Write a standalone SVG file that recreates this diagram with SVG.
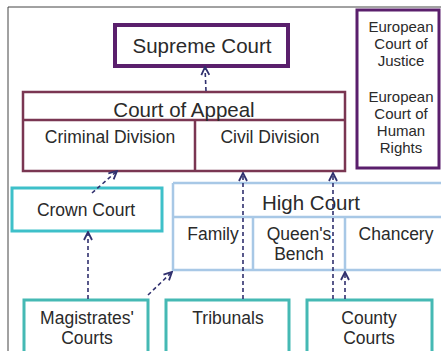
<svg xmlns="http://www.w3.org/2000/svg" width="441" height="351" viewBox="0 0 441 351">
<style>
text{font-family:"Liberation Sans",Arial,sans-serif;fill:#2a2a2a;text-anchor:middle}
.h{font-size:20.5px}
.s{font-size:17.5px}
.e{font-size:15px}
.box{fill:#fff}
.sc{stroke:#5a1f6c;stroke-width:4}
.ca{stroke:#7a3652;stroke-width:2.5;fill:none}
.eu{stroke:#5a1f6c;stroke-width:3}
.cc{stroke:#3ec0c9;stroke-width:3}
.hc{stroke:#a8c8e6;stroke-width:2.5;fill:none}
.lo{stroke:#45b9b4;stroke-width:3}
.conn{stroke:#30306e;stroke-width:1.6;stroke-dasharray:4 3;fill:none}
</style>
<defs>
<marker id="ah" viewBox="0 0 10 10" refX="9" refY="5" markerWidth="10" markerHeight="10" markerUnits="userSpaceOnUse" orient="auto">
<path d="M1,1 L9,5 L1,9" fill="none" stroke="#30306e" stroke-width="1.8"/>
</marker>
</defs>
<rect x="0" y="0" width="441" height="351" fill="#fff"/>
<path d="M8,360 V7 H450" fill="none" stroke="#444" stroke-width="1"/>

<g id="supreme-court">
<rect class="box sc" x="115" y="25" width="173" height="41"/>
<text class="h" x="202" y="53">Supreme Court</text>
</g>
<g id="court-of-appeal">
<rect class="box" x="23" y="92" width="322" height="79"/>
<path class="ca" d="M23,92 H345 V171 H23 Z M23,120 H345 M195,120 V171"/>
<text class="h" x="184" y="117">Court of Appeal</text>
<text class="s" x="110" y="143">Criminal Division</text>
<text class="s" x="270" y="143">Civil Division</text>
</g>
<g id="european">
<rect class="box eu" x="357" y="10" width="82" height="158"/>
<text class="e" x="401" y="32">European</text>
<text class="e" x="401" y="49">Court of</text>
<text class="e" x="401" y="66">Justice</text>
<text class="e" x="401" y="102">European</text>
<text class="e" x="401" y="119">Court of</text>
<text class="e" x="401" y="136">Human</text>
<text class="e" x="401" y="153">Rights</text>
</g>
<g id="crown-court">
<rect class="box cc" x="12" y="188" width="150" height="43"/>
<text class="s" x="86" y="216">Crown Court</text>
</g>
<g id="high-court">
<rect class="box" x="173" y="183" width="280" height="87"/>
<path class="hc" d="M173,183 H450 M173,183 V270 H450 M173,217 H450 M253,217 V270 M345,217 V270"/>
<text class="h" x="311" y="210">High Court</text>
<text class="s" x="213" y="240">Family</text>
<text class="s" x="299" y="240">Queen's</text>
<text class="s" x="299" y="260">Bench</text>
<text class="s" x="396" y="240">Chancery</text>
</g>
<g id="magistrates">
<rect class="box lo" x="24" y="300" width="124" height="60"/>
<text class="s" x="87" y="324">Magistrates'</text>
<text class="s" x="87" y="344">Courts</text>
</g>
<g id="tribunals">
<rect class="box lo" x="166" y="300" width="123" height="60"/>
<text class="s" x="228" y="324">Tribunals</text>
</g>
<g id="county">
<rect class="box lo" x="307" y="300" width="125" height="60"/>
<text class="s" x="369" y="324">County</text>
<text class="s" x="369" y="344">Courts</text>
</g>
<g id="connectors">
<path class="conn" d="M206,91 L205,67" marker-end="url(#ah)"/>
<path class="conn" d="M92,193 L117,171" marker-end="url(#ah)"/>
<path class="conn" d="M88,299 L88,232" marker-end="url(#ah)"/>
<path class="conn" d="M148,295 L172,272" marker-end="url(#ah)"/>
<path class="conn" d="M243,299 L243,173" marker-end="url(#ah)"/>
<path class="conn" d="M333,299 L333,173" marker-end="url(#ah)"/>
<path class="conn" d="M345,299 L345,272" marker-end="url(#ah)"/>
</g>
</svg>
